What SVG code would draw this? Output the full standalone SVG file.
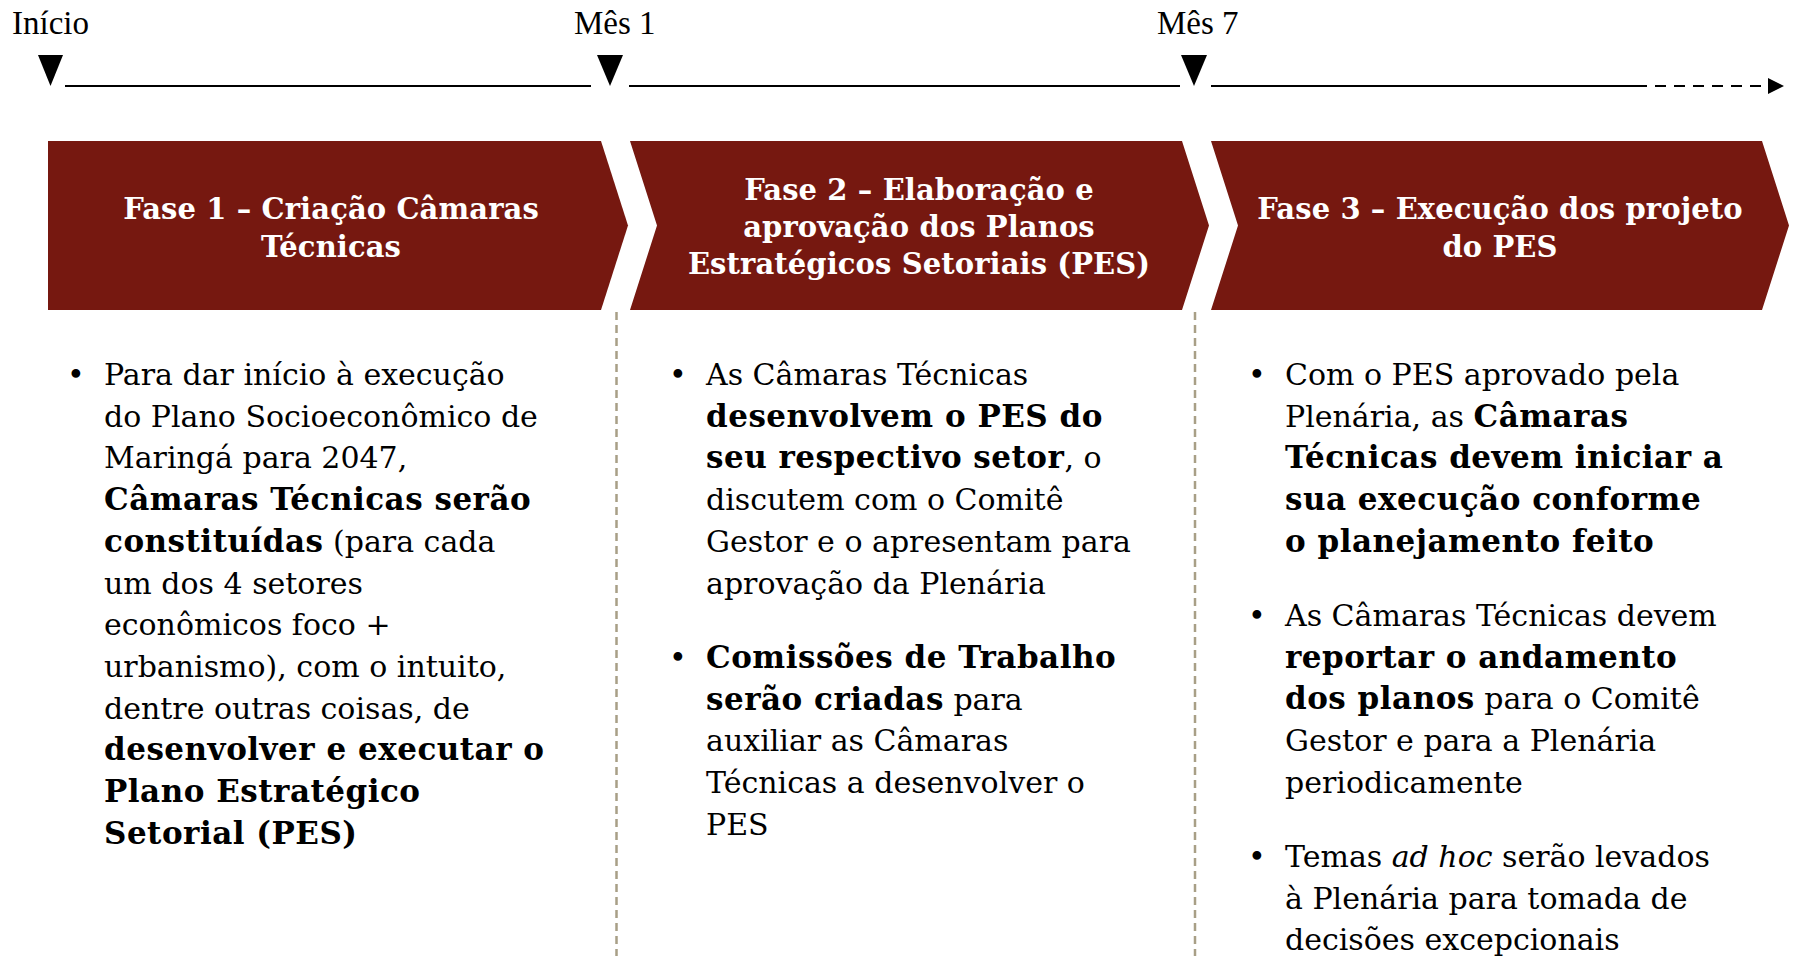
<svg xmlns="http://www.w3.org/2000/svg" width="1800" height="956" viewBox="0 0 1800 956">
<style>
.lbl{font-family:"Liberation Serif","Times New Roman",serif;font-size:33px;fill:#000}
.tt{font-family:"DejaVu Serif",Georgia,serif;font-weight:bold;font-size:29px;letter-spacing:0.1px;fill:#fff;text-anchor:middle}
.bd{font-family:"DejaVu Serif",Georgia,serif;font-size:30px;fill:#000}
.b{font-weight:bold;font-size:31px;letter-spacing:0.5px}
.i{font-style:italic}
.chev{fill:#761810}
.sep{stroke:#a89f86;stroke-width:2.5;stroke-dasharray:8 5}
.tl{stroke:#000;stroke-width:2}
.tri{fill:#000}
</style>
<defs>
<marker id="ah" viewBox="0 0 10 10" refX="0" refY="5" markerWidth="16" markerHeight="16" markerUnits="userSpaceOnUse" orient="auto"><path d="M0,0 L10,5 L0,10 Z" fill="#000"/></marker>
</defs>
<g id="timeline">
<text class="lbl" x="12" y="34">Início</text>
<text class="lbl" x="574" y="34">Mês 1</text>
<text class="lbl" x="1157" y="34">Mês 7</text>
<polygon class="tri" points="38,55 63,55 50.5,86"/>
<polygon class="tri" points="597,55 623,55 610,86"/>
<polygon class="tri" points="1181,55 1207,55 1194,86"/>
</g>
<g id="connectors">
<line class="tl" x1="65" y1="86" x2="591" y2="86"/>
<line class="tl" x1="629" y1="86" x2="1180" y2="86"/>
<line class="tl" x1="1211" y1="86" x2="1636" y2="86"/>
<line class="tl" x1="1636" y1="86" x2="1768" y2="86" stroke-dasharray="11 8" marker-end="url(#ah)"/>
<line class="sep" x1="616.5" y1="312" x2="616.5" y2="956"/>
<line class="sep" x1="1195" y1="312" x2="1195" y2="956"/>
</g>
<g id="phase1">
<polygon class="chev" points="48,141 601,141 628,225.5 601,310 48,310"/>
<text class="tt" x="331" y="219">Fase 1 – Criação Câmaras</text>
<text class="tt" x="331" y="257">Técnicas</text>
</g>
<g id="phase2">
<polygon class="chev" points="630,141 1182,141 1209,225.5 1182,310 630,310 657,225.5"/>
<text class="tt" x="919" y="200">Fase 2 – Elaboração e</text>
<text class="tt" x="919" y="237">aprovação dos Planos</text>
<text class="tt" x="919" y="274">Estratégicos Setoriais (PES)</text>
</g>
<g id="phase3">
<polygon class="chev" points="1211,141 1762,141 1789,225.5 1762,310 1211,310 1238,225.5"/>
<text class="tt" x="1500" y="219">Fase 3 – Execução dos projeto</text>
<text class="tt" x="1500" y="257">do PES</text>
</g>
<g id="text1" class="bd">
<text x="67" y="385">•</text>
<text x="104" y="385">Para dar início à execução</text>
<text x="104" y="426.7">do Plano Socioeconômico de</text>
<text x="104" y="468.4">Maringá para 2047,</text>
<text x="104" y="510.1" class="b">Câmaras Técnicas serão</text>
<text x="104" y="551.8"><tspan class="b">constituídas</tspan> (para cada</text>
<text x="104" y="593.5">um dos 4 setores</text>
<text x="104" y="635.2">econômicos foco +</text>
<text x="104" y="676.9">urbanismo), com o intuito,</text>
<text x="104" y="718.6">dentre outras coisas, de</text>
<text x="104" y="760.3" class="b">desenvolver e executar o</text>
<text x="104" y="802" class="b">Plano Estratégico</text>
<text x="104" y="843.7" class="b">Setorial (PES)</text>
</g>
<g id="text2" class="bd">
<text x="669" y="385">•</text>
<text x="706" y="385">As Câmaras Técnicas</text>
<text x="706" y="426.7" class="b">desenvolvem o PES do</text>
<text x="706" y="468.4"><tspan class="b">seu respectivo setor</tspan>, o</text>
<text x="706" y="510.1">discutem com o Comitê</text>
<text x="706" y="551.8">Gestor e o apresentam para</text>
<text x="706" y="593.5">aprovação da Plenária</text>
<text x="669" y="668">•</text>
<text x="706" y="668" class="b">Comissões de Trabalho</text>
<text x="706" y="709.7"><tspan class="b">serão criadas</tspan> para</text>
<text x="706" y="751.4">auxiliar as Câmaras</text>
<text x="706" y="793.1">Técnicas a desenvolver o</text>
<text x="706" y="834.8">PES</text>
</g>
<g id="text3" class="bd">
<text x="1248" y="385">•</text>
<text x="1285" y="385">Com o PES aprovado pela</text>
<text x="1285" y="426.7">Plenária, as <tspan class="b">Câmaras</tspan></text>
<text x="1285" y="468.4" class="b">Técnicas devem iniciar a</text>
<text x="1285" y="510.1" class="b">sua execução conforme</text>
<text x="1285" y="551.8" class="b">o planejamento feito</text>
<text x="1248" y="626">•</text>
<text x="1285" y="626">As Câmaras Técnicas devem</text>
<text x="1285" y="667.7"><tspan class="b">reportar o andamento</tspan></text>
<text x="1285" y="709.4"><tspan class="b">dos planos</tspan> para o Comitê</text>
<text x="1285" y="751.1">Gestor e para a Plenária</text>
<text x="1285" y="792.8">periodicamente</text>
<text x="1248" y="867">•</text>
<text x="1285" y="867">Temas <tspan class="i">ad hoc</tspan> serão levados</text>
<text x="1285" y="908.7">à Plenária para tomada de</text>
<text x="1285" y="950.4">decisões excepcionais</text>
</g>
</svg>
